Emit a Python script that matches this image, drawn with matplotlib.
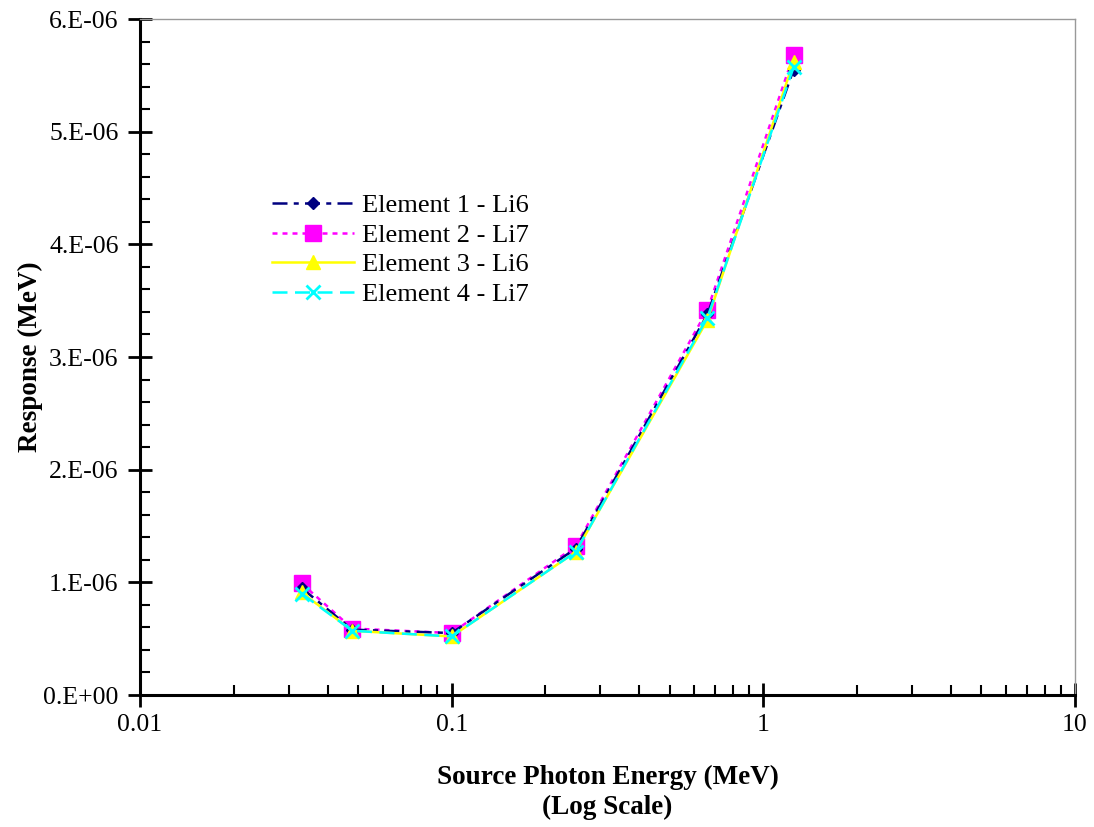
import matplotlib
matplotlib.use("Agg")
import matplotlib.pyplot as plt
from matplotlib.ticker import FixedLocator, FixedFormatter, NullFormatter, LogLocator

plt.rcParams['font.family'] = ['Liberation Serif', 'DejaVu Serif']

energy = [0.033, 0.048, 0.1, 0.25, 0.662, 1.25]
element1 = [0.95e-6, 0.58e-6, 0.55e-6, 1.30e-6, 3.38e-6, 5.55e-6]
element2 = [0.99e-6, 0.59e-6, 0.55e-6, 1.32e-6, 3.42e-6, 5.68e-6]
element3 = [0.91e-6, 0.57e-6, 0.52e-6, 1.27e-6, 3.33e-6, 5.62e-6]
element4 = [0.90e-6, 0.57e-6, 0.52e-6, 1.27e-6, 3.35e-6, 5.57e-6]
labels = ["Element 1 - Li6", "Element 2 - Li7", "Element 3 - Li6", "Element 4 - Li7"]

y_ticks = [0, 1e-6, 2e-6, 3e-6, 4e-6, 5e-6, 6e-6]
y_ticklabels = ["0.E+00", "1.E-06", "2.E-06", "3.E-06", "4.E-06", "5.E-06", "6.E-06"]
x_ticks = [0.01, 0.1, 1, 10]
x_ticklabels = ["0.01", "0.1", "1", "10"]

fig = plt.figure(figsize=(10.94, 8.27), dpi=100)
ax = fig.add_axes([0.128, 0.1596, 0.8546, 0.8174])

lw = 1.8
ax.plot(energy, element1, color='#000080', lw=lw, linestyle=(0, (6, 2.5, 2, 2.5)),
        marker='D', markersize=6.5, label=labels[0], zorder=3)
ax.plot(energy, element2, color='#FF00FF', lw=lw, linestyle=(0, (2, 2)),
        marker='s', markersize=11, label=labels[1], zorder=2)
ax.plot(energy, element3, color='#FFFF00', lw=lw, linestyle='-',
        marker='^', markersize=10, label=labels[2], zorder=4)
ax.plot(energy, element4, color='#00FFFF', lw=lw, linestyle=(0, (6, 3)),
        marker='x', markersize=10, markeredgewidth=2, label=labels[3], zorder=5)

ax.set_xscale('log')
ax.set_xlim(0.01, 10)
ax.set_ylim(0, 6e-6)

ax.xaxis.set_major_locator(FixedLocator(x_ticks))
ax.xaxis.set_major_formatter(FixedFormatter(x_ticklabels))
ax.xaxis.set_minor_locator(LogLocator(base=10, subs=range(2, 10)))
ax.xaxis.set_minor_formatter(NullFormatter())
ax.yaxis.set_major_locator(FixedLocator(y_ticks))
ax.yaxis.set_major_formatter(FixedFormatter(y_ticklabels))
ax.yaxis.set_minor_locator(FixedLocator([i * 0.2e-6 for i in range(31)]))

ax.tick_params(which='major', direction='inout', length=17, width=2, labelsize=18.5)
ax.tick_params(axis='y', which='major', pad=7)
ax.tick_params(axis='x', which='major', pad=5)
ax.tick_params(which='minor', direction='in', length=7, width=1.5)
ax.tick_params(top=False, right=False, which='both')

for s in ['left', 'bottom']:
    ax.spines[s].set_linewidth(2.2)
    ax.spines[s].set_color('black')
for s in ['top', 'right']:
    ax.spines[s].set_linewidth(1)
    ax.spines[s].set_color('#999999')

ax.set_xlabel("Source Photon Energy (MeV)\n(Log Scale)", fontsize=19.5, fontweight='bold',
              labelpad=21, linespacing=1.25)
ax.set_ylabel("Response (MeV)", fontsize=19.5, fontweight='bold', labelpad=0)

ax.legend(loc='upper left', bbox_to_anchor=(0.13, 0.757), frameon=False, fontsize=19,
          handlelength=3.1, labelspacing=0.23, handletextpad=0.3, borderaxespad=0)

fig.savefig("out.png", dpi=100)
